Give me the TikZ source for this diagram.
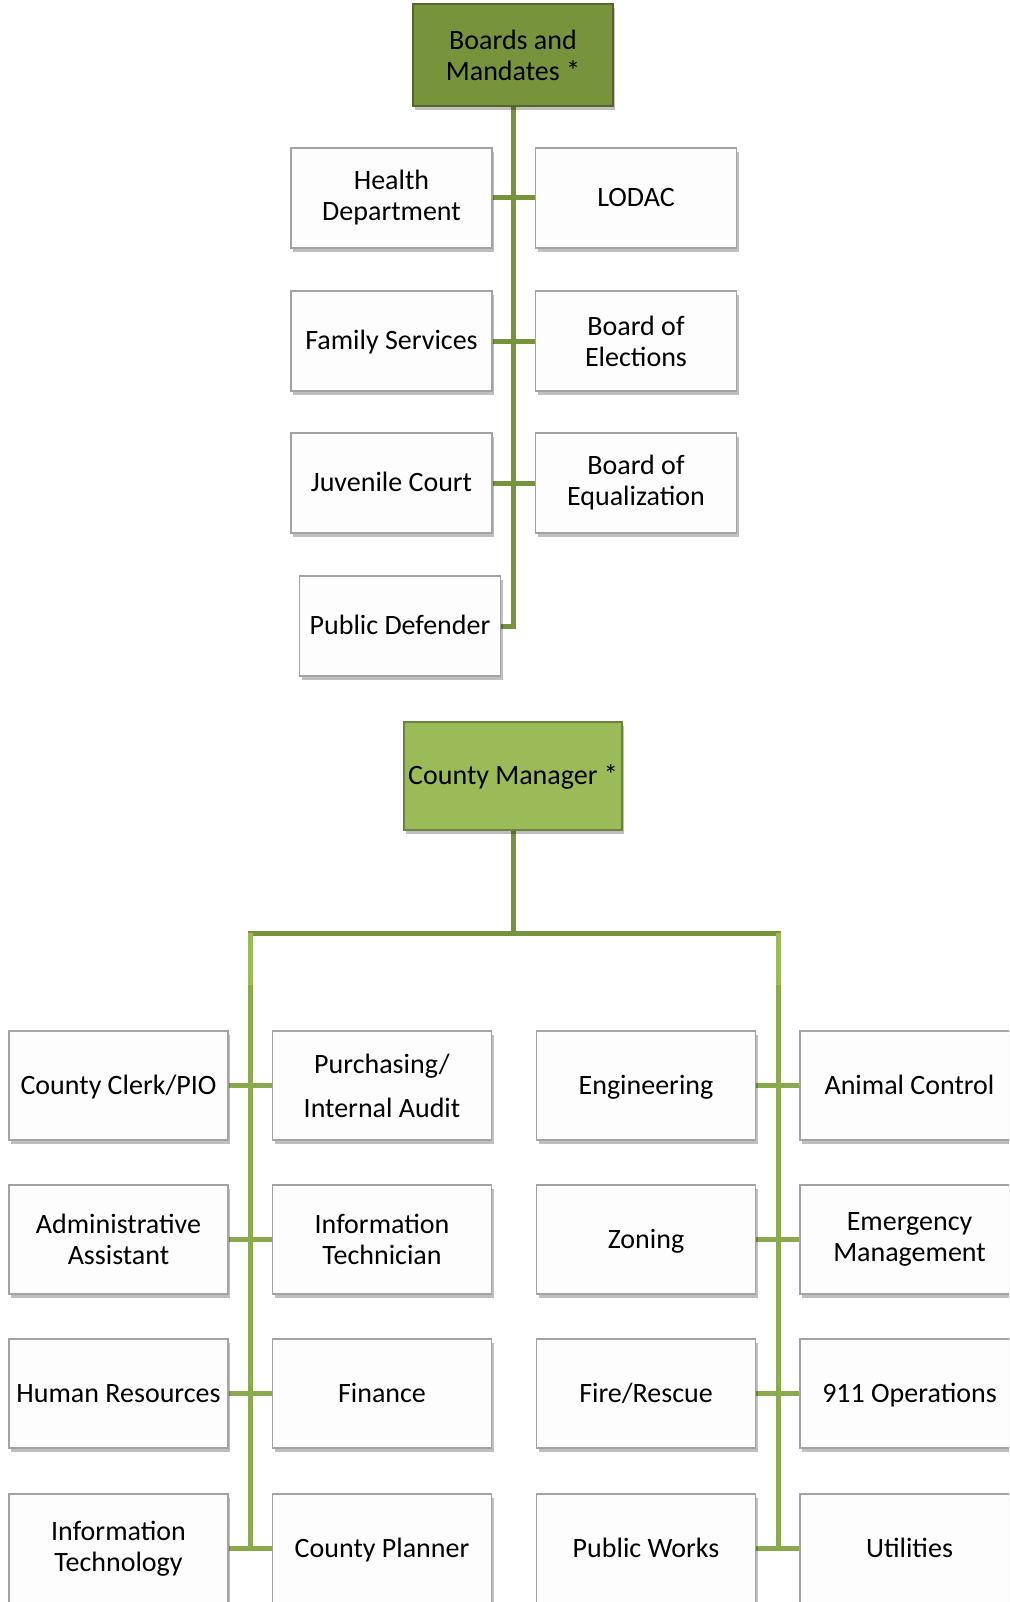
\documentclass[tikz,border=0pt]{standalone}
\usepackage{fontspec}
\setmainfont{Carlito}
\usetikzlibrary{shadows,backgrounds}
\definecolor{olive}{HTML}{77933C}
\definecolor{midgreen}{HTML}{8BAA4D}
\definecolor{lightgreen}{HTML}{9BBB59}
\definecolor{boxline}{HTML}{A3A3A3}
\definecolor{boxfill}{HTML}{FDFDFD}
\tikzset{
  unit/.style={draw=boxline, line width=1.5pt, fill=boxfill, align=center,
    font=\fontsize{28}{31}\selectfont, inner sep=2pt,
    drop shadow={shadow xshift=2pt, shadow yshift=-4pt, opacity=0.25, fill=black}},
  oneline/.style={text height=22pt, text depth=5pt},
  topbox/.style={unit, minimum width=201pt, minimum height=100pt},
  botbox/.style={unit, minimum width=219pt, minimum height=109pt},
  headdark/.style={unit, fill=olive, draw=olive!70!black},
  headlight/.style={unit, fill=lightgreen, draw=lightgreen!70!black},
  conn/.style={line width=5pt, draw=olive},
  connb/.style={line width=5pt, draw=midgreen},
  connl/.style={line width=5pt, draw=lightgreen}
}
\begin{document}
\begin{tikzpicture}[x=1pt,y=-1pt]
\useasboundingbox (0,0) rectangle (1009,1602);
\clip (0,0) rectangle (1009,1602);
% top section
\node[headdark, minimum width=200pt, minimum height=102pt] (boards) at (513,55) {Boards and\\Mandates *};
\node[topbox] (health) at (391.5,198) {Health\\Department};
\node[topbox, oneline] (lodac) at (636,198) {LODAC};
\node[topbox, oneline] (family) at (391.5,341) {Family Services};
\node[topbox] (elect) at (636,341) {Board of\\Elections};
\node[topbox, oneline] (juv) at (391.5,483) {Juvenile Court};
\node[topbox] (equal) at (636,483) {Board of\\Equalization};
\node[topbox, oneline] (pd) at (400,626) {Public Defender};
\begin{scope}[on background layer]
\draw[conn] (boards.south) -- (boards.south |- pd.east) -- (pd.east);
\draw[conn] (health.east) -- (lodac.west);
\draw[conn] (family.east) -- (elect.west);
\draw[conn] (juv.east) -- (equal.west);
\end{scope}
% bottom section
\node[headlight, oneline, minimum width=218pt, minimum height=108pt] (cm) at (513,776) {County Manager *};
\node[botbox, oneline] (clerk) at (118.5,1085.5) {County Clerk/PIO};
\node[botbox] (purch) at (382,1085.5) {Purchasing/\\[13pt]Internal Audit};
\node[botbox, oneline] (eng) at (646,1085.5) {Engineering};
\node[botbox, oneline] (animal) at (909.5,1085.5) {Animal Control};
\node[botbox] (admin) at (118.5,1239.5) {Administrative\\Assistant};
\node[botbox] (itech) at (382,1239.5) {Information\\Technician};
\node[botbox, oneline] (zoning) at (646,1239.5) {Zoning};
\node[botbox] (emerg) at (909.5,1239.5) {Emergency\\Management};
\node[botbox, oneline] (humres) at (118.5,1393.5) {Human Resources};
\node[botbox, oneline] (fin) at (382,1393.5) {Finance};
\node[botbox, oneline] (fire) at (646,1393.5) {Fire/Rescue};
\node[botbox, oneline] (ops) at (909.5,1393.5) {911 Operations};
\node[botbox] (infotech) at (118.5,1548.5) {Information\\Technology};
\node[botbox, oneline] (planner) at (382,1548.5) {County Planner};
\node[botbox, oneline] (pw) at (646,1548.5) {Public Works};
\node[botbox, oneline] (util) at (909.5,1548.5) {Utilities};
\coordinate (hleft) at (250.5,933);
\coordinate (hright) at (778,933);
\coordinate (mleft) at (250.5,985);
\coordinate (mright) at (778,985);
\begin{scope}[on background layer]
\draw[conn] (cm.south) -- (cm.south |- hleft);
\draw[conn, line cap=rect] (hleft) -- (hright);
\draw[connl] (hleft) -- (mleft);
\draw[connl] (hright) -- (mright);
\draw[connb] (mleft) -- (mleft |- infotech.east);
\draw[connb] (mright) -- (mright |- pw.east);
\draw[connb] (clerk.east) -- (purch.west);
\draw[connb] (admin.east) -- (itech.west);
\draw[connb] (humres.east) -- (fin.west);
\draw[connb] (infotech.east) -- (planner.west);
\draw[connb] (eng.east) -- (animal.west);
\draw[connb] (zoning.east) -- (emerg.west);
\draw[connb] (fire.east) -- (ops.west);
\draw[connb] (pw.east) -- (util.west);
\end{scope}
\end{tikzpicture}
\end{document}
